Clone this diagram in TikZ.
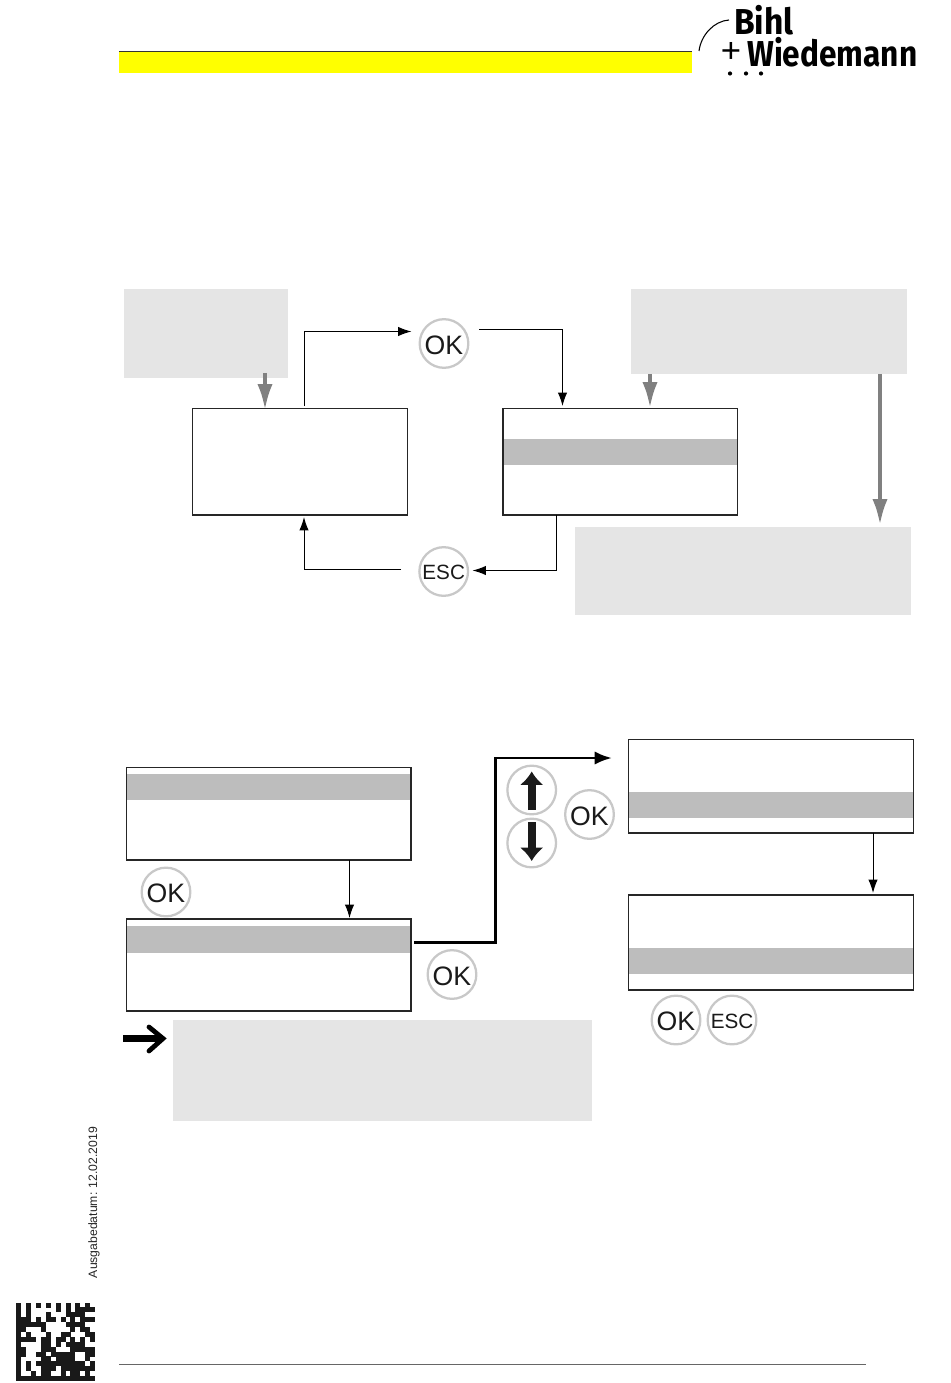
\documentclass[tikz,border=0pt]{standalone}
\usepackage{fontspec}
\usetikzlibrary{arrows.meta}
\setmainfont{Liberation Sans}
\newfontfamily\logofont{Fira Sans}
\definecolor{panelgray}{HTML}{E5E5E5}
\definecolor{bandgray}{HTML}{BDBDBD}
\definecolor{ringgray}{HTML}{C8C8C8}
\definecolor{arrowgray}{HTML}{808080}
\definecolor{signyellow}{HTML}{FFFF00}
\definecolor{inkblack}{HTML}{1A1A1A}
\newcommand{\pxbox}[6]{%
  \pgfmathsetmacro{\cxv}{(#3+#5)/2}\pgfmathsetmacro{\cyv}{(#4+#6)/2}%
  \pgfmathsetmacro{\wv}{(#5-#3)*0.75}\pgfmathsetmacro{\hv}{(#6-#4)*0.75}%
  \node[#1,minimum width=\wv pt,minimum height=\hv pt] (#2) at (\cxv,\cyv) {};}
\tikzset{
  panel/.style={fill=panelgray,draw=none,inner sep=0pt,outer sep=0pt},
  band/.style={fill=bandgray,draw=none,inner sep=0pt,outer sep=0pt},
  screen/.style={draw=black!85,line width=0.9pt,inner sep=0pt,outer sep=0pt},
  keyring/.style={circle,draw=ringgray,line width=1.7pt,fill=white,minimum size=36.5pt,inner sep=0pt,outer sep=0pt,text=inkblack},
  okkey/.style={keyring,font=\fontsize{20}{20}\selectfont,text depth=0pt,text height=16pt},
  esckey/.style={keyring,font=\fontsize{15.5}{16}\selectfont,text depth=0pt,text height=12.4pt},
  thin link/.style={draw=black,line width=0.75pt,-{Latex[length=10pt,width=7pt]}},
  thick link/.style={draw=black,line width=2.2pt,-{Latex[length=13pt,width=10pt]}},
  gray link/.style={draw=arrowgray,line width=3pt,-{Latex[length=19.5pt,width=11.5pt]}},
  key arrow/.style={draw=inkblack,line width=6pt,-{Latex[length=10pt,width=18pt]}},
  logotext/.style={font=\logofont\bfseries\fontsize{27}{27}\selectfont,xscale=0.878,inner sep=0pt,anchor=west},
}
\begin{document}
\begin{tikzpicture}[x=0.75pt,y=-0.75pt]
\useasboundingbox (0,0) rectangle (950,1383);
% header
\pxbox{fill=signyellow,inner sep=0pt,outer sep=0pt}{yellowbar}{119}{52}{692}{73}
\coordinate (headl) at (119,51.5); \coordinate (headr) at (692,51.5);
\draw[line width=0.6pt,black!80] (headl) -- (headr);
\coordinate (footl) at (119,1364.5); \coordinate (footr) at (866,1364.5);
\draw[line width=0.6pt,black!60] (footl) -- (footr);
% logo
\draw[line width=0.8pt,black] (699,51) .. controls (701,35) and (714,21) .. (729,20);
\node[logotext,xscale=1.06] (logoa) at (734,20) {Bihl};
\node[logotext] (logob) at (747,52.5) {Wiedemann};
\node[font=\fontsize{26}{26}\selectfont,inner sep=0pt] (logoplus) at (731,53) {+};
\foreach \dx in {730,746,761} \fill[black] (\dx,73.5) circle (2.1);
% vertical date
\node[rotate=90,font=\fontsize{9.15}{10}\selectfont,inner sep=0pt,text=black!85] (datelabel) at (94,1202.5) {Ausgabedatum: 12.02.2019};
% data matrix
\foreach \j/\cols in {0/{0,2,4,6,8,10,12,14},1/{0,2,8,10,12,13,14,15},2/{0,2,6,10,11,12,13},3/{0,1,2,4,6,7,9,11,13,14,15},4/{0,1,2,3,4,5,10,11,12,13},5/{0,1,5,11,13,14},6/{0,2,6,9,10,14,15},7/{0,1,2,3,5,6,8,9,11,13,15},8/{0,5,6,8,10,11,12,13},9/{0,1,5,6,7,11,12,13,14,15},10/{0,1,4,5,7,8,9,10,11,14,15},11/{0,5,6,8,9,10,11,14},12/{0,2,4,5,6,7,8,9,10,11,12,13,15},13/{0,2,5,6,7,9,10,11,12,13,14,15},14/{0,3,5,6,9,11,12,14},15/{0,1,2,3,4,5,6,7,8,9,10,11,12,13,14,15}}
  \foreach \i in \cols
    \fill[black!90] ({16+4.95*\i},{1302.5+4.9*\j}) rectangle ({16+4.95*\i+5},{1302.5+4.9*\j+5});
% upper panels
\pxbox{panel}{notea}{124}{289}{287.5}{378}
\pxbox{panel}{noteb}{631}{289}{907}{374}
\pxbox{panel}{notec}{575}{527}{911}{615}
% upper screens
\pxbox{screen}{scra}{192.5}{408.5}{407.5}{515}
\pxbox{band}{bandb}{503}{439}{737.5}{465}
\pxbox{screen}{scrb}{503}{408.5}{737.5}{515}
\node[okkey] (oka) at (444,343.5) {OK};
\node[esckey] (esca) at (443.7,571.5) {ESC};
% upper links
\coordinate (l1s) at (304,406); \coordinate (l1e) at (411.5,331.5);
\draw[thin link] (l1s) |- (l1e);
\coordinate (l2s) at (479,330); \coordinate (l2e) at (562.5,406);
\draw[thin link] (l2s) -| (l2e);
\coordinate (l3s) at (556.5,515); \coordinate (l3e) at (472.5,570.5);
\draw[thin link] (l3s) |- (l3e);
\coordinate (l4s) at (401,569.5); \coordinate (l4e) at (304,517);
\draw[thin link] (l4s) -| (l4e);
\coordinate (g1s) at (265,373); \coordinate (g1e) at (265,410);
\draw[gray link] (g1s) -- (g1e);
\coordinate (g2s) at (650,374); \coordinate (g2e) at (650,408);
\draw[gray link] (g2s) -- (g2e);
\coordinate (g3s) at (880,374); \coordinate (g3e) at (880,525);
\draw[gray link] (g3s) -- (g3e);
% lower screens
\pxbox{band}{bandc}{126.5}{774}{411}{800}
\pxbox{screen}{scrc}{126.5}{767.5}{411}{860}
\pxbox{band}{bandd}{126.5}{926}{411}{953}
\pxbox{screen}{scrd}{126.5}{919}{411}{1011}
\pxbox{band}{bande}{628.5}{792}{913.5}{818}
\pxbox{screen}{scre}{628.5}{739.5}{913.5}{833}
\pxbox{band}{bandf}{628.5}{948}{913.5}{974}
\pxbox{screen}{scrf}{628.5}{895}{913.5}{990}
\pxbox{panel}{noted}{173}{1020}{592}{1120.5}
% lower keys
\node[okkey] (okb) at (166,892) {OK};
\node[okkey] (okc) at (452,974.5) {OK};
\node[okkey] (okd) at (589.5,814.5) {OK};
\node[okkey] (oke) at (676,1020) {OK};
\node[esckey] (escb) at (732,1020) {ESC};
\node[keyring] (upkey) at (531.7,790) {};
\node[keyring] (downkey) at (531.7,843) {};
\coordinate (us) at (531.7,810); \coordinate (ue) at (531.7,771.5);
\draw[key arrow] (us) -- (ue);
\coordinate (ds) at (531.7,822); \coordinate (de) at (531.7,861);
\draw[key arrow] (ds) -- (de);
% lower links
\coordinate (l5s) at (349.5,860); \coordinate (l5e) at (349.5,918);
\draw[thin link] (l5s) -- (l5e);
\coordinate (l6s) at (873,833); \coordinate (l6e) at (873,893);
\draw[thin link] (l6s) -- (l6e);
\coordinate (t1) at (414,942.5); \coordinate (t2) at (495.5,942.5); \coordinate (t3) at (495.5,758); \coordinate (t4) at (612,758);
\draw[thick link] (t1) -- (t2) -- (t3) -- (t4);
% note arrow
\coordinate (n1) at (123,1038.5); \coordinate (n2) at (163,1038.5);
\coordinate (n3) at (149,1027); \coordinate (n4) at (149,1051);
\draw[line width=4.6pt,black] (n1) -- (n2);
\draw[line width=3.6pt,black,line cap=round,line join=miter] (n3) -- (n2) -- (n4);
\end{tikzpicture}
\end{document}
